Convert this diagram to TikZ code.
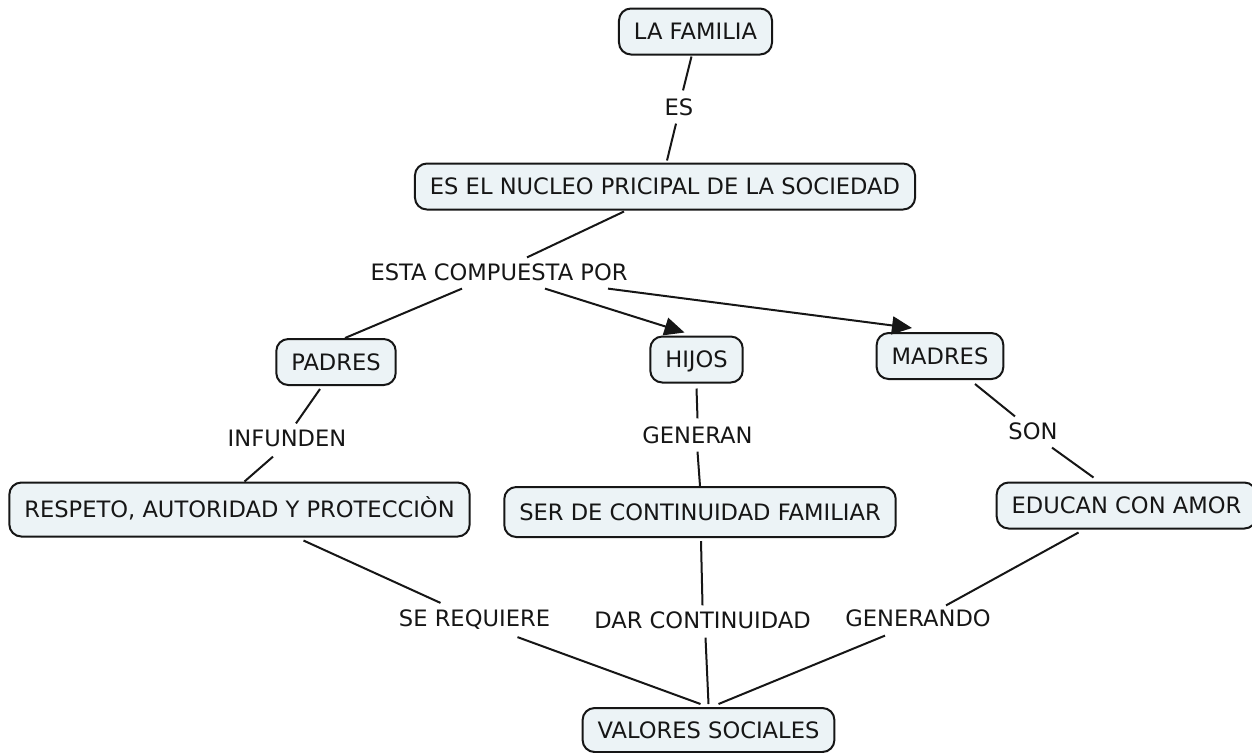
\documentclass[tikz,border=0pt]{standalone}
\usepackage{fontspec}
\setmainfont{DejaVu Sans}
\usepackage{tikz}
\usetikzlibrary{arrows.meta,calc}
\definecolor{conceptfill}{RGB}{236,243,246}
\definecolor{inkgray}{RGB}{22,22,22}
\newcommand{\mapfont}{\fontsize{11.3}{13.5}\selectfont}
\tikzset{
  concept/.style = {rectangle, draw=inkgray, line width=1pt, fill=conceptfill,
    rounded corners=6pt, inner xsep=7.5pt, minimum height=23pt,
    text height=8.2pt, text depth=0pt, font=\mapfont, text=inkgray},
  linkphrase/.style = {inner sep=4pt, text height=8.2pt, text depth=0pt,
    font=\mapfont, text=inkgray},
  conn/.style = {line width=1pt, draw=inkgray},
  arrow/.style = {conn, -{Triangle[length=10pt, width=9pt]}}
}

\begin{document}
\begin{tikzpicture}[x=0.5pt, y=-0.5pt]
\useasboundingbox (0,0) rectangle (1252,752);

% concepts
\node[concept] (fam) at (695.5,31.5) {LA FAMILIA};
\node[concept] (nucleo) at (665,186.5) {ES EL NUCLEO PRICIPAL DE LA SOCIEDAD};
\node[concept] (padres) at (336,362) {PADRES};
\node[concept] (hijos) at (696.5,359.5) {HIJOS};
\node[concept] (madres) at (940,356) {MADRES};
\node[concept, minimum height=27pt] (respeto) at (239.5,509.5) {RESPETO, AUTORIDAD Y PROTECCIÒN};
\node[concept, minimum height=25pt] (ser) at (700,512) {SER DE CONTINUIDAD FAMILIAR};
\node[concept] (educan) at (1126.5,505.5) {EDUCAN CON AMOR};
\node[concept, minimum height=22pt] (valores) at (708.5,730) {VALORES SOCIALES};

% linking phrases
\node[linkphrase] (es) at (679,107) {ES};
\node[linkphrase] (comp) at (499,272) {ESTA COMPUESTA POR};
\node[linkphrase] (infunden) at (287,438) {INFUNDEN};
\node[linkphrase] (generan) at (697.5,435) {GENERAN};
\node[linkphrase] (son) at (1033,431) {SON};
\node[linkphrase] (sereq) at (474.5,618.5) {SE REQUIERE};
\node[linkphrase] (dar) at (702.5,620) {DAR CONTINUIDAD};
\node[linkphrase] (generando) at (918,618) {GENERANDO};

% connectors
\draw[conn] ($(fam.south)+(-4,1)$) -- ($(es.north)+(4,0)$);
\draw[conn] ($(es.south)+(-3,0)$) -- ($(nucleo.north)+(2,-2)$);
\draw[conn] ($(nucleo.south)+(-41,1)$) -- ($(comp.north)+(28,2)$);
\draw[conn] ($(comp.south)+(-37,0)$) -- ($(padres.north)+(9,0)$);
\draw[arrow] ($(comp.south)+(46,0)$) -- ($(hijos.north)+(-12,-3)$);
\draw[arrow] ($(comp.south)+(109,0)$) -- ($(madres.north)+(-28,-4)$);
\draw[conn] ($(padres.south)+(-16,3)$) -- ($(infunden.north)+(9,2)$);
\draw[conn] ($(infunden.south)+(-14,2)$) -- ($(respeto.north)+(5,0)$);
\draw[conn] ($(hijos.south)+(0,5)$) -- (generan.north);
\draw[conn] (generan.south) -- (ser.north);
\draw[conn] ($(madres.south)+(35,4)$) -- ($(son.north)+(-18,2)$);
\draw[conn] ($(son.south)+(19,0)$) -- ($(educan.north)+(-33,-4)$);
\draw[conn] ($(respeto.south)+(64,3)$) -- ($(sereq.north)+(-34,1)$);
\draw[conn] ($(ser.south)+(1,3)$) -- ($(dar.north)+(0,2)$);
\draw[conn] ($(educan.south)+(-48,3)$) -- ($(generando.north)+(28,4)$);
\draw[conn] ($(sereq.south)+(43,2)$) -- ($(valores.north)+(-8,-3)$);
\draw[conn] ($(dar.south)+(3,1)$) -- ($(valores.north)+(0,-3)$);
\draw[conn] ($(generando.south)+(-33,1)$) -- ($(valores.north)+(10,-3)$);

\end{tikzpicture}
\end{document}
